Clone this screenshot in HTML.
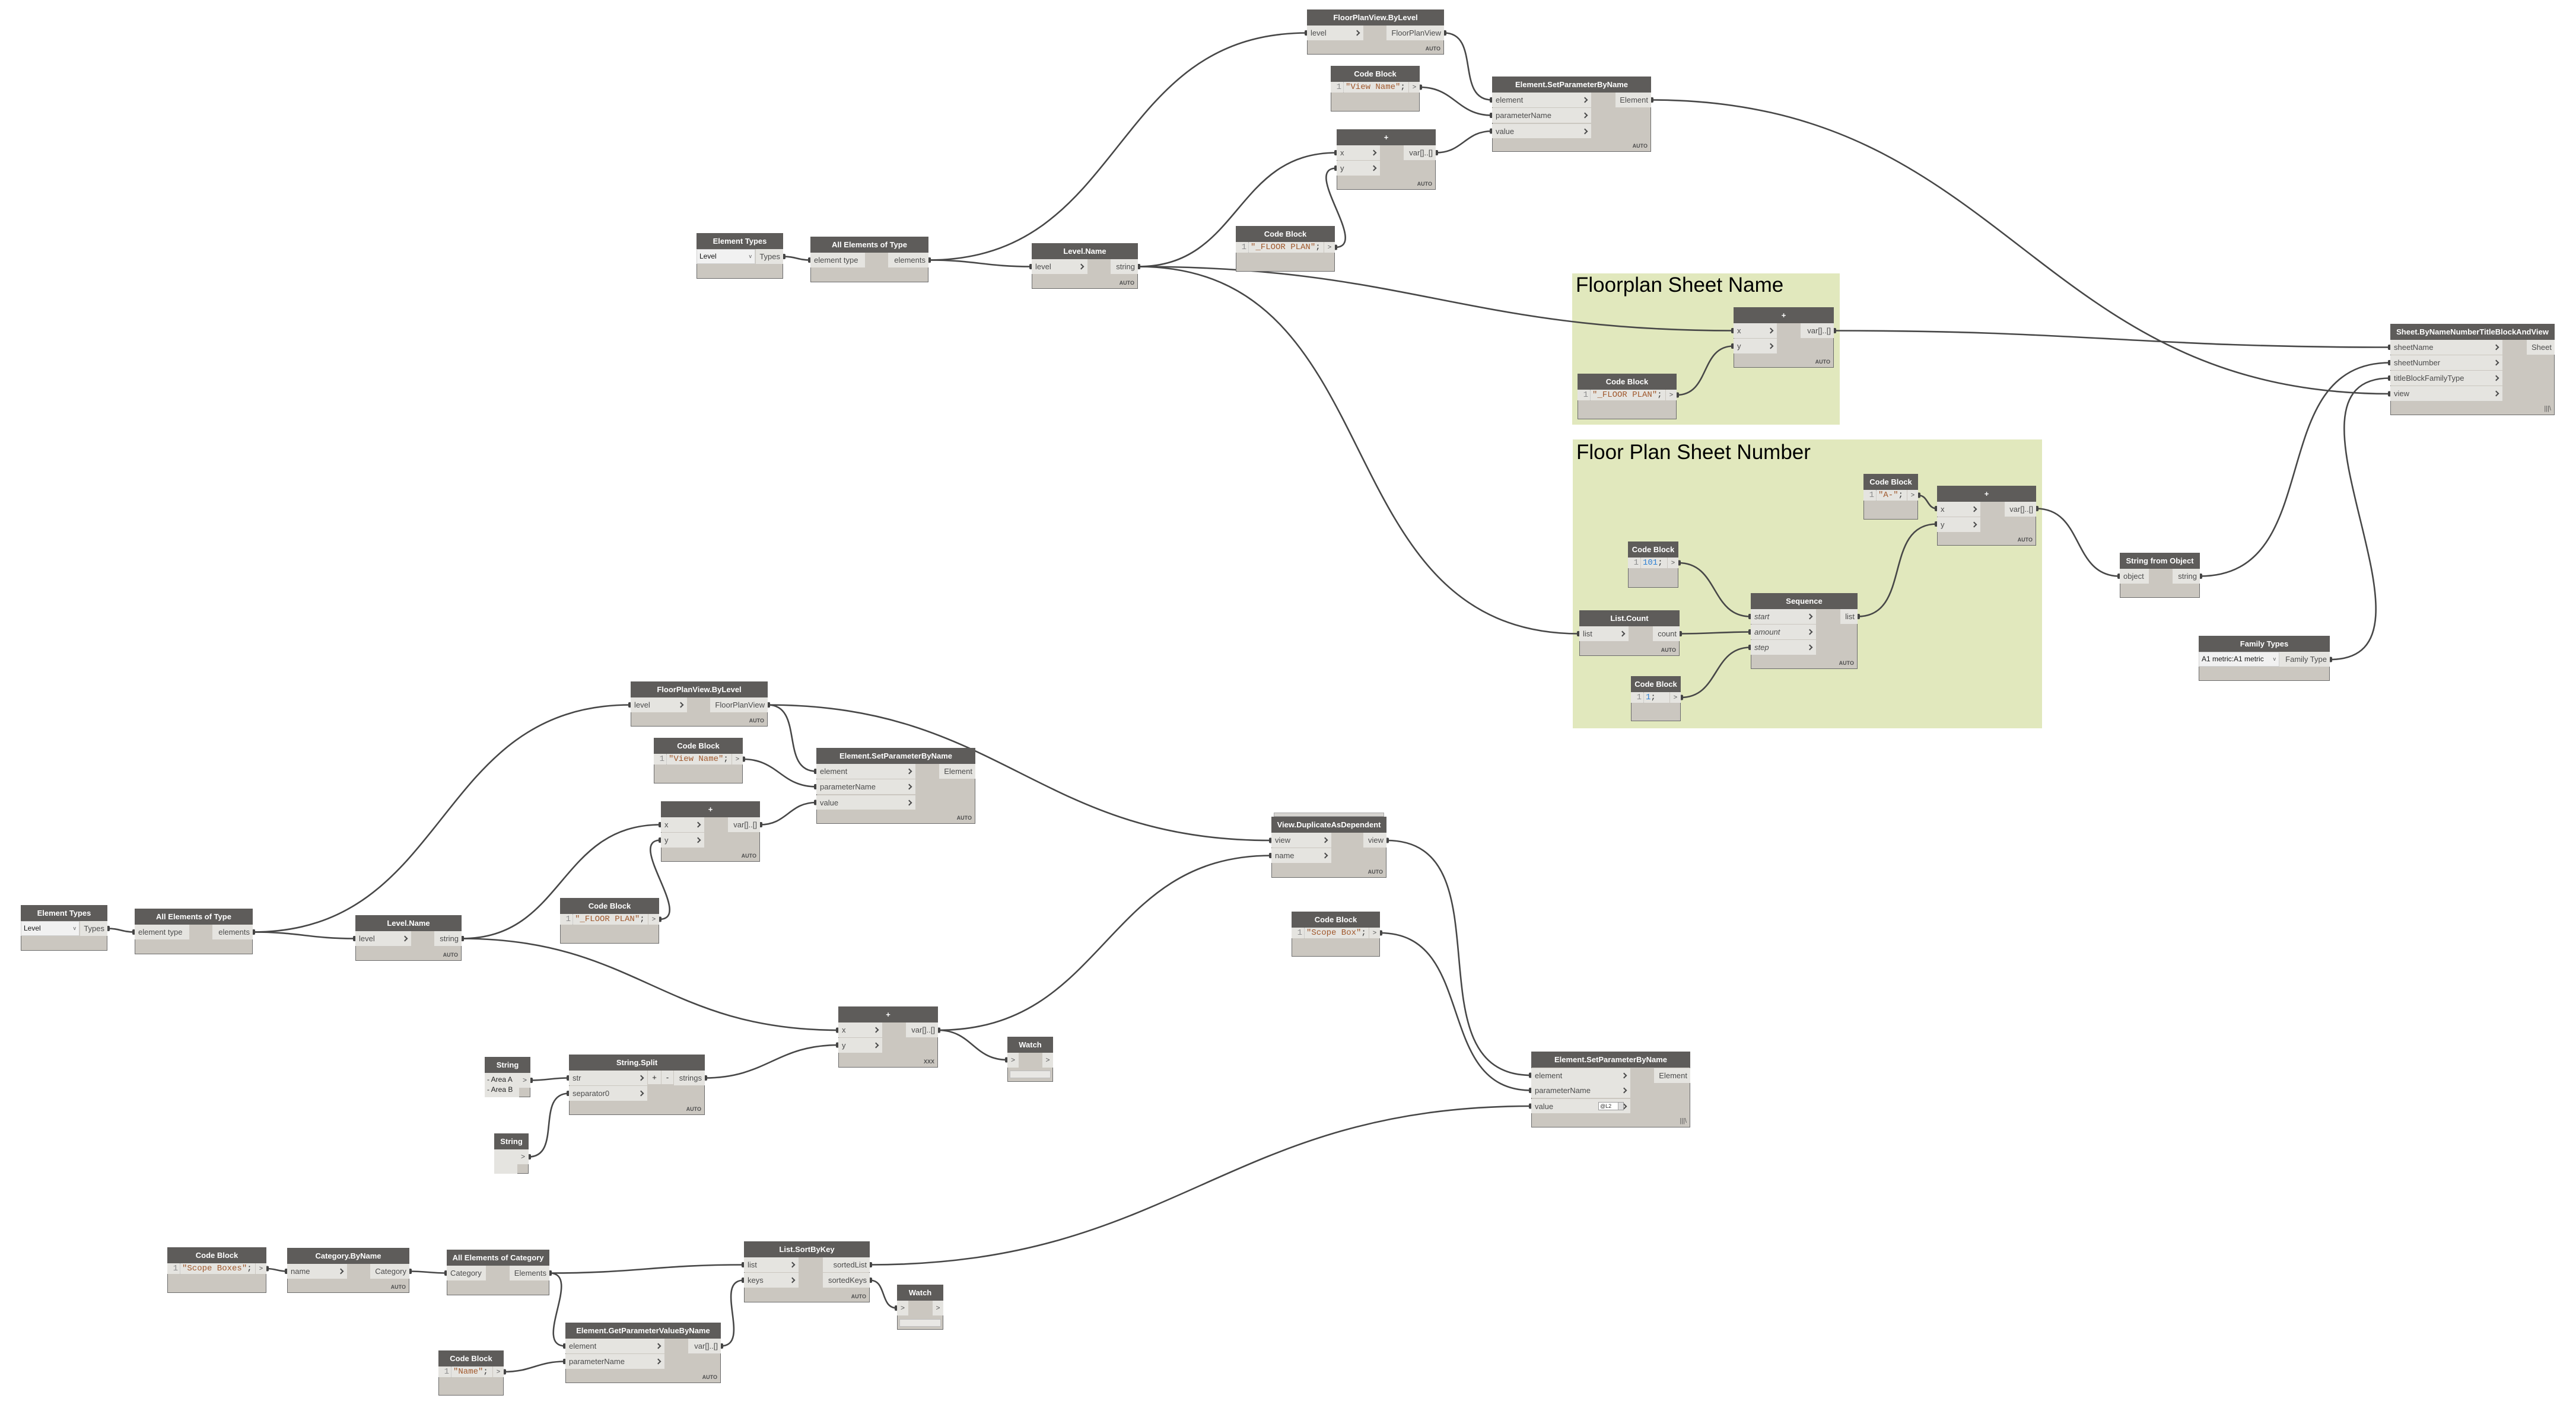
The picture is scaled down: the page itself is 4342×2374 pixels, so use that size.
<!DOCTYPE html>
<html><head><meta charset="utf-8"><style>
body{margin:0;width:4342px;height:2374px;position:relative;background:#fff;overflow:hidden;font-family:"Liberation Sans",sans-serif}
.g{position:absolute;background:#e1e8bd;z-index:0}
.gt{position:absolute;left:6px;font-size:35px;line-height:35px;color:#000;white-space:nowrap}
svg.w{position:absolute;left:0;top:0;z-index:1}
.n{position:absolute;background:#cbc7c0;outline:1px solid #6b6b6b;outline-offset:-1px;z-index:2}
.h{position:absolute;left:0;top:0;right:0;height:27px;background:#5e5c5a;color:#fff;font-size:13px;font-weight:bold;line-height:27px;text-align:center;white-space:nowrap}
.i,.o,.x{position:absolute;height:25px;background:#e5e4e0;color:#4b4b4b;font-size:13px;line-height:25px;white-space:nowrap;box-sizing:border-box}
.i{left:0;padding-left:6px}
.o{right:0;padding-right:5px;text-align:right}
.i.c::after{content:"";position:absolute;right:7px;top:8.5px;width:5px;height:5px;border-top:2.5px solid #4a4a4a;border-right:2.5px solid #4a4a4a;transform:rotate(45deg)}
.a{position:absolute;right:6px;bottom:5px;font-size:9px;font-weight:bold;color:#4f4f4f;line-height:9px}
.lc{position:absolute;right:6px;bottom:5px;font-size:11px;color:#555;line-height:11px}
.cl{position:absolute;left:0;top:27px;height:18px;background:#e5e4e0;font-family:"Liberation Mono",monospace;font-size:14px;line-height:18px;white-space:nowrap}
.ln{position:absolute;left:0;top:0;width:22px;height:18px;text-align:right;color:#8c8c8c;border-right:1px dotted #b5b5b5;padding-right:3px;box-sizing:border-box}
.ct{position:absolute;left:25px;top:0;color:#333}
.s{color:#a0582c}
.b{color:#2d7fd3}
.co{position:absolute;right:0;top:27px;width:18px;height:18px;background:#e5e4e0;box-sizing:border-box;font-size:11px;line-height:18px;text-align:center;color:#555}
.dd{position:absolute;left:0;top:27px;height:25px;background:#f1f1f1;border:1px solid #d0d0d0;box-sizing:border-box;font-size:12px;line-height:23px;padding-left:4px;color:#111;white-space:nowrap}
.dv{position:absolute;right:5px;top:0;font-size:9px;color:#555}
.x{text-align:center;font-size:12px;color:#555}
.wb{position:absolute;background:#e8e7e4;outline:1px solid #bdbdbd}
.ta{position:absolute;left:0;top:27px;background:#e5e4e0;font-size:12px;line-height:17px;padding:3px 0 0 4px;box-sizing:border-box;color:#222;white-space:nowrap}
</style></head><body>

<div class="g" style="left:2650px;top:461px;width:451px;height:255px"><div class="gt" style="top:2px">Floorplan Sheet Name</div></div>
<div class="g" style="left:2651px;top:741px;width:791px;height:487px"><div class="gt" style="top:4px">Floor Plan Sheet Number</div></div>

<svg class="w" width="4342" height="2374" viewBox="0 0 4342 2374">
<defs>
<marker id="ms" markerUnits="userSpaceOnUse" markerWidth="6" markerHeight="10" refX="1" refY="5" orient="0" viewBox="0 0 6 10"><rect x="0" y="0.5" width="5" height="9" rx="2" fill="#444"/></marker>
<marker id="me" markerUnits="userSpaceOnUse" markerWidth="6" markerHeight="10" refX="4" refY="5" orient="0" viewBox="0 0 6 10"><rect x="0" y="0.5" width="5" height="9" rx="2" fill="#444"/></marker>
</defs>
<g fill="none" stroke="#474747" stroke-width="2.6" marker-start="url(#ms)" marker-end="url(#me)">
<path d="M1320 432.5 C1341 432.5 1345 438.5 1366 438.5"/>
<path d="M1565 438.5 C1900 438.5 1868 55.5 2203 55.5"/>
<path d="M1565 438.5 C1643.5 438.5 1660.5 449.5 1739 449.5"/>
<path d="M1918 449.5 C2091.8 449.5 2079.2 257.5 2253 257.5"/>
<path d="M1918 449.5 C2372.4 449.5 2467.6 557.5 2922 557.5"/>
<path d="M1918 449.5 C2353.5 449.5 2226.5 1068.5 2662 1068.5"/>
<path d="M2250 417 C2310 417 2193 283.5 2253 283.5"/>
<path d="M2434 55.5 C2496.6 55.5 2452.4 168.5 2515 168.5"/>
<path d="M2393 147 C2452 147 2456 194.5 2515 194.5"/>
<path d="M2420 257.5 C2465.8 257.5 2469.2 221 2515 221"/>
<path d="M2783 168.5 C3386.4 168.5 3425.6 664 4029 664"/>
<path d="M2826 666 C2883 666 2865 583.5 2922 583.5"/>
<path d="M3091 557.5 C3513.3 557.5 3606.7 585.5 4029 585.5"/>
<path d="M3233 835 C3250.6 835 3247.4 857.5 3265 857.5"/>
<path d="M3131 1039.5 C3223.6 1039.5 3172.4 883.5 3265 883.5"/>
<path d="M2829 949 C2897.4 949 2882.6 1039.5 2951 1039.5"/>
<path d="M2831 1068.5 C2885 1068.5 2897 1065.5 2951 1065.5"/>
<path d="M2833 1176 C2898.3 1176 2885.7 1091.5 2951 1091.5"/>
<path d="M3432 857.5 C3513.6 857.5 3491.4 971.5 3573 971.5"/>
<path d="M3708 971.5 C3925 971.5 3812 611.5 4029 611.5"/>
<path d="M3927 1112 C4145.4 1112 3810.6 637.5 4029 637.5"/>
<path d="M181 1565.5 C201.9 1565.5 206.1 1571.5 227 1571.5"/>
<path d="M426 1571.5 C760.5 1571.5 728.5 1188.5 1063 1188.5"/>
<path d="M426 1571.5 C504 1571.5 521 1582.5 599 1582.5"/>
<path d="M778 1582.5 C952.2 1582.5 939.8 1390.5 1114 1390.5"/>
<path d="M778 1582.5 C1072.1 1582.5 1118.9 1737 1413 1737"/>
<path d="M1111 1550 C1171.1 1550 1053.9 1416.5 1114 1416.5"/>
<path d="M1294 1188.5 C1356.5 1188.5 1313.5 1300.5 1376 1300.5"/>
<path d="M1252 1280 C1311.6 1280 1316.4 1326.5 1376 1326.5"/>
<path d="M1281 1390.5 C1327 1390.5 1330 1353 1376 1353"/>
<path d="M1294 1188.5 C1689.6 1188.5 1747.4 1417 2143 1417"/>
<path d="M1581 1737 C1866.5 1737 1857.5 1442.5 2143 1442.5"/>
<path d="M1581 1737 C1638.3 1737 1640.7 1787 1698 1787"/>
<path d="M1188 1817.5 C1292.3 1817.5 1308.7 1762 1413 1762"/>
<path d="M894 1821.5 C923.3 1821.5 929.7 1817.5 959 1817.5"/>
<path d="M891 1950.5 C948.2 1950.5 901.8 1843.5 959 1843.5"/>
<path d="M2337 1417 C2546.3 1417 2371.7 1813 2581 1813"/>
<path d="M2326 1573 C2491.8 1573 2415.2 1838.5 2581 1838.5"/>
<path d="M1466 2132.5 C1982 2132.5 2065 1865 2581 1865"/>
<path d="M449 2139 C464.9 2139 468.1 2143.5 484 2143.5"/>
<path d="M690 2143.5 C718.4 2143.5 724.6 2146.5 753 2146.5"/>
<path d="M926 2146.5 C1073.7 2146.5 1106.3 2132.5 1254 2132.5"/>
<path d="M926 2146.5 C982.7 2146.5 896.3 2269.5 953 2269.5"/>
<path d="M849 2313 C896.4 2313 905.6 2295.5 953 2295.5"/>
<path d="M1215 2269.5 C1268 2269.5 1201 2158.5 1254 2158.5"/>
<path d="M1466 2158.5 C1495.6 2158.5 1482.4 2205.5 1512 2205.5"/>
</g>
</svg>

<!-- ===== Top cluster ===== -->
<div class="n" style="left:1174px;top:393px;width:146px;height:77px"><div class="h">Element Types</div><div class="dd" style="width:99px">Level<span class="dv">v</span></div><div class="o" style="top:27px;width:46px">Types</div></div>
<div class="n" style="left:1366px;top:399px;width:199px;height:77px"><div class="h">All Elements of Type</div><div class="i" style="top:27px;width:92px">element type</div><div class="o" style="top:27px;width:68px">elements</div></div>
<div class="n" style="left:1739px;top:410px;width:179px;height:77px"><div class="h">Level.Name</div><div class="i c" style="top:27px;width:94px">level</div><div class="o" style="top:27px;width:46px">string</div><div class="a">AUTO</div></div>
<div class="n" style="left:2203px;top:16px;width:231px;height:76px"><div class="h">FloorPlanView.ByLevel</div><div class="i c" style="top:27px;width:95px">level</div><div class="o" style="top:27px;width:97px">FloorPlanView</div><div class="a">AUTO</div></div>
<div class="n" style="left:2243px;top:111px;width:150px;height:77px"><div class="h">Code Block</div><div class="cl" style="width:131px"><span class="ln">1</span><span class="ct"><span class="s">"View Name"</span>;</span></div><div class="co">&gt;</div></div>
<div class="n" style="left:2515px;top:129px;width:268px;height:127px"><div class="h">Element.SetParameterByName</div><div class="i c" style="top:27px;width:167px">element</div><div class="i c" style="top:53px;width:167px">parameterName</div><div class="i c" style="top:80px;width:167px;height:24px">value</div><div class="o" style="top:27px;width:60px">Element</div><div class="a">AUTO</div></div>
<div class="n" style="left:2253px;top:218px;width:167px;height:102px"><div class="h">+</div><div class="i c" style="top:27px;width:73px">x</div><div class="i c" style="top:53px;width:73px">y</div><div class="o" style="top:27px;width:54px">var[]..[]</div><div class="a">AUTO</div></div>
<div class="n" style="left:2083px;top:381px;width:167px;height:77px"><div class="h">Code Block</div><div class="cl" style="width:148px"><span class="ln">1</span><span class="ct"><span class="s">"_FLOOR PLAN"</span>;</span></div><div class="co">&gt;</div></div>

<!-- ===== Floorplan Sheet Name group ===== -->
<div class="n" style="left:2922px;top:518px;width:169px;height:102px"><div class="h">+</div><div class="i c" style="top:27px;width:73px">x</div><div class="i c" style="top:53px;width:73px">y</div><div class="o" style="top:27px;width:56px">var[]..[]</div><div class="a">AUTO</div></div>
<div class="n" style="left:2659px;top:630px;width:167px;height:77px"><div class="h">Code Block</div><div class="cl" style="width:148px"><span class="ln">1</span><span class="ct"><span class="s">"_FLOOR PLAN"</span>;</span></div><div class="co">&gt;</div></div>

<!-- ===== Floor Plan Sheet Number group ===== -->
<div class="n" style="left:3141px;top:799px;width:92px;height:77px"><div class="h">Code Block</div><div class="cl" style="width:73px"><span class="ln">1</span><span class="ct"><span class="s">"A-"</span>;</span></div><div class="co">&gt;</div></div>
<div class="n" style="left:3265px;top:819px;width:167px;height:101px"><div class="h">+</div><div class="i c" style="top:27px;width:73px">x</div><div class="i c" style="top:53px;width:73px">y</div><div class="o" style="top:27px;width:53px">var[]..[]</div><div class="a">AUTO</div></div>
<div class="n" style="left:2744px;top:913px;width:85px;height:78px"><div class="h">Code Block</div><div class="cl" style="width:66px"><span class="ln">1</span><span class="ct"><span class="b">101</span>;</span></div><div class="co">&gt;</div></div>
<div class="n" style="left:2662px;top:1029px;width:169px;height:77px"><div class="h">List.Count</div><div class="i c" style="top:27px;width:83px">list</div><div class="o" style="top:27px;width:45px">count</div><div class="a">AUTO</div></div>
<div class="n" style="left:2749px;top:1140px;width:84px;height:76px"><div class="h">Code Block</div><div class="cl" style="width:65px"><span class="ln">1</span><span class="ct"><span class="b">1</span>;</span></div><div class="co">&gt;</div></div>
<div class="n" style="left:2951px;top:1000px;width:180px;height:128px"><div class="h">Sequence</div><div class="i c" style="top:27px;width:110px;font-style:italic">start</div><div class="i c" style="top:53px;width:110px;font-style:italic">amount</div><div class="i c" style="top:79px;width:110px;font-style:italic">step</div><div class="o" style="top:27px;width:29px">list</div><div class="a">AUTO</div></div>

<!-- ===== Right side ===== -->
<div class="n" style="left:4029px;top:546px;width:277px;height:154px"><div class="h">Sheet.ByNameNumberTitleBlockAndView</div><div class="i c" style="top:27px;width:189px">sheetName</div><div class="i c" style="top:53px;width:189px">sheetNumber</div><div class="i c" style="top:79px;width:189px">titleBlockFamilyType</div><div class="i c" style="top:105px;width:189px">view</div><div class="o" style="top:27px;width:47px">Sheet</div><div class="lc">|||\</div></div>
<div class="n" style="left:3573px;top:932px;width:135px;height:76px"><div class="h">String from Object</div><div class="i" style="top:27px;width:49px">object</div><div class="o" style="top:27px;width:46px">string</div></div>
<div class="n" style="left:3706px;top:1072px;width:221px;height:76px"><div class="h">Family Types</div><div class="dd" style="width:136px">A1 metric:A1 metric<span class="dv">v</span></div><div class="o" style="top:27px;width:85px">Family Type</div></div>

<!-- ===== Bottom cluster ===== -->
<div class="n" style="left:35px;top:1526px;width:146px;height:77px"><div class="h">Element Types</div><div class="dd" style="width:99px">Level<span class="dv">v</span></div><div class="o" style="top:27px;width:46px">Types</div></div>
<div class="n" style="left:227px;top:1532px;width:199px;height:77px"><div class="h">All Elements of Type</div><div class="i" style="top:27px;width:92px">element type</div><div class="o" style="top:27px;width:68px">elements</div></div>
<div class="n" style="left:599px;top:1543px;width:179px;height:77px"><div class="h">Level.Name</div><div class="i c" style="top:27px;width:94px">level</div><div class="o" style="top:27px;width:46px">string</div><div class="a">AUTO</div></div>
<div class="n" style="left:1063px;top:1149px;width:231px;height:76px"><div class="h">FloorPlanView.ByLevel</div><div class="i c" style="top:27px;width:95px">level</div><div class="o" style="top:27px;width:97px">FloorPlanView</div><div class="a">AUTO</div></div>
<div class="n" style="left:1102px;top:1244px;width:150px;height:77px"><div class="h">Code Block</div><div class="cl" style="width:131px"><span class="ln">1</span><span class="ct"><span class="s">"View Name"</span>;</span></div><div class="co">&gt;</div></div>
<div class="n" style="left:1376px;top:1261px;width:268px;height:128px"><div class="h">Element.SetParameterByName</div><div class="i c" style="top:27px;width:167px">element</div><div class="i c" style="top:53px;width:167px">parameterName</div><div class="i c" style="top:80px;width:167px;height:24px">value</div><div class="o" style="top:27px;width:61px">Element</div><div class="a">AUTO</div></div>
<div class="n" style="left:1114px;top:1351px;width:167px;height:102px"><div class="h">+</div><div class="i c" style="top:27px;width:73px">x</div><div class="i c" style="top:53px;width:73px">y</div><div class="o" style="top:27px;width:54px">var[]..[]</div><div class="a">AUTO</div></div>
<div class="n" style="left:944px;top:1514px;width:167px;height:77px"><div class="h">Code Block</div><div class="cl" style="width:148px"><span class="ln">1</span><span class="ct"><span class="s">"_FLOOR PLAN"</span>;</span></div><div class="co">&gt;</div></div>

<!-- ===== Middle lower ===== -->
<div style="position:absolute;left:2148px;top:1371px;width:184px;height:5px;background:#d6d4d0;outline:1px solid #a8a8a8;z-index:2"></div>
<div class="n" style="left:2143px;top:1377px;width:194px;height:103px"><div class="h">View.DuplicateAsDependent</div><div class="i c" style="top:27px;width:101px">view</div><div class="i c" style="top:53px;width:101px">name</div><div class="o" style="top:27px;width:39px">view</div><div class="a">AUTO</div></div>
<div class="n" style="left:2177px;top:1537px;width:149px;height:76px"><div class="h">Code Block</div><div class="cl" style="width:130px"><span class="ln">1</span><span class="ct"><span class="s">"Scope Box"</span>;</span></div><div class="co">&gt;</div></div>
<div class="n" style="left:1413px;top:1697px;width:168px;height:103px"><div class="h">+</div><div class="i c" style="top:27px;width:74px">x</div><div class="i c" style="top:53px;width:74px">y</div><div class="o" style="top:27px;width:54px">var[]..[]</div><div class="a">XXX</div></div>
<div class="n" style="left:1698px;top:1748px;width:77px;height:76px"><div class="h">Watch</div><div class="x" style="left:0;top:27px;width:19px;line-height:25px">&gt;</div><div class="x" style="right:0;top:27px;width:18px;line-height:25px">&gt;</div><div class="wb" style="left:5px;top:58px;width:67px;height:11px"></div></div>
<div class="n" style="left:817px;top:1782px;width:77px;height:68px"><div class="h">String</div><div class="ta" style="width:58px;height:41px">- Area A<br>- Area B</div><div class="x" style="left:58px;top:27px;width:19px;line-height:25px">&gt;</div></div>
<div class="n" style="left:959px;top:1778px;width:229px;height:102px"><div class="h">String.Split</div><div class="i c" style="top:27px;width:132px">str</div><div class="i c" style="top:53px;width:132px">separator0</div><div class="x" style="left:133px;top:27px;width:22px;height:23px;line-height:23px;font-size:13px;color:#222">+</div><div class="x" style="left:156px;top:27px;width:20px;height:23px;line-height:23px;font-size:13px;color:#222">-</div><div class="o" style="top:27px;width:52px">strings</div><div class="a">AUTO</div></div>
<div class="n" style="left:833px;top:1911px;width:58px;height:68px"><div class="h">String</div><div class="ta" style="width:39px;height:41px"></div><div class="x" style="left:39px;top:27px;width:19px;line-height:25px">&gt;</div></div>
<div class="n" style="left:2581px;top:1773px;width:268px;height:128px"><div class="h">Element.SetParameterByName</div><div class="i c" style="top:28px;width:167px">element</div><div class="i c" style="top:53px;width:167px">parameterName</div><div class="i c" style="top:80px;width:167px;height:24px">value</div><div style="position:absolute;left:113px;top:85px;width:43px;height:14px;background:#fff;border:1px solid #9a9a9a;box-sizing:border-box;font-size:9px;line-height:12px;padding-left:2px;color:#333">@L2<span style="position:absolute;right:0;top:0;width:8px;height:12px;background:#ddd;border-left:1px solid #aaa"></span></div><div class="o" style="top:28px;width:61px">Element</div><div class="lc">|||\</div></div>

<!-- ===== Bottom ===== -->
<div class="n" style="left:282px;top:2103px;width:167px;height:77px"><div class="h">Code Block</div><div class="cl" style="width:148px"><span class="ln">1</span><span class="ct"><span class="s">"Scope Boxes"</span>;</span></div><div class="co">&gt;</div></div>
<div class="n" style="left:484px;top:2104px;width:206px;height:76px"><div class="h">Category.ByName</div><div class="i c" style="top:27px;width:101px">name</div><div class="o" style="top:27px;width:66px">Category</div><div class="a">AUTO</div></div>
<div class="n" style="left:753px;top:2107px;width:173px;height:77px"><div class="h">All Elements of Category</div><div class="i" style="top:27px;width:66px">Category</div><div class="o" style="top:27px;width:67px">Elements</div></div>
<div class="n" style="left:1254px;top:2093px;width:212px;height:103px"><div class="h">List.SortByKey</div><div class="i c" style="top:27px;width:92px">list</div><div class="i c" style="top:53px;width:92px">keys</div><div class="o" style="top:27px;width:79px">sortedList</div><div class="o" style="top:53px;width:79px">sortedKeys</div><div class="a">AUTO</div></div>
<div class="n" style="left:1512px;top:2166px;width:78px;height:76px"><div class="h">Watch</div><div class="x" style="left:0;top:27px;width:19px;line-height:25px">&gt;</div><div class="x" style="right:0;top:27px;width:18px;line-height:25px">&gt;</div><div class="wb" style="left:5px;top:59px;width:68px;height:11px"></div></div>
<div class="n" style="left:739px;top:2277px;width:110px;height:76px"><div class="h">Code Block</div><div class="cl" style="width:91px"><span class="ln">1</span><span class="ct"><span class="s">"Name"</span>;</span></div><div class="co">&gt;</div></div>
<div class="n" style="left:953px;top:2230px;width:262px;height:102px"><div class="h">Element.GetParameterValueByName</div><div class="i c" style="top:27px;width:167px">element</div><div class="i c" style="top:53px;width:167px">parameterName</div><div class="o" style="top:27px;width:55px">var[]..[]</div><div class="a">AUTO</div></div>

</body></html>
